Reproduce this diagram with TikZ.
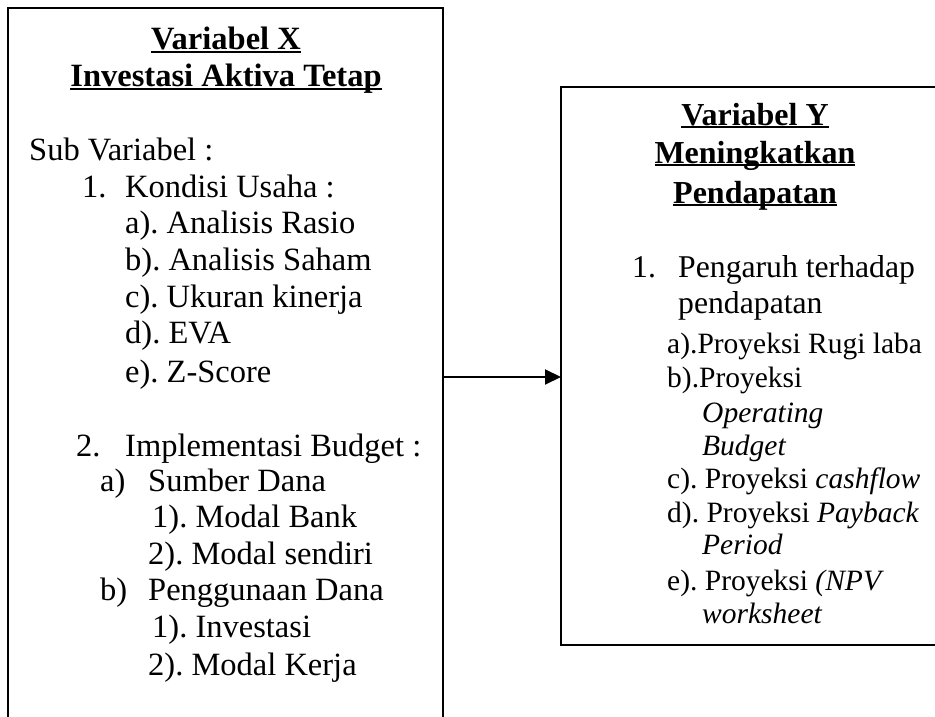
\documentclass[tikz,border=0pt]{standalone}
\usepackage{fontspec}
\setmainfont{Liberation Serif}
\usetikzlibrary{arrows.meta}
\frenchspacing
\newcommand{\myul}[1]{\setbox0\hbox{#1}\rlap{\rule[-3pt]{\wd0}{1.8pt}}\box0}
\begin{document}
\begin{tikzpicture}[x=1pt,y=-1pt,
  box/.style={draw, line width=2pt, inner sep=0pt, outer sep=0pt, anchor=north west},
  txt/.style={anchor=base west, inner sep=0pt, font=\fontsize{32.5}{38}\selectfont},
  rtxt/.style={anchor=base west, inner sep=0pt, font=\fontsize{31.7}{38}\selectfont},
  stxt/.style={anchor=base west, inner sep=0pt, font=\fontsize{29.5}{34}\selectfont},
  ttl/.style={anchor=base, inner sep=0pt, font=\fontsize{32.5}{38}\selectfont\bfseries},
  sttl/.style={anchor=base, inner sep=0pt, font=\fontsize{32}{38}\selectfont\bfseries},
  conn/.style={line width=2pt, -{Triangle[length=16pt,width=15pt]}}]
\useasboundingbox (0,0) rectangle (935,717);
\clip (0,0) rectangle (935,717);
\node[box, minimum width=435pt, minimum height=740pt] (lbox) at (8,8) {};
\node[box, minimum width=400pt, minimum height=558pt] (rbox) at (561,87) {};
% left box text
\node[ttl] (lt1) at (226,50) {\myul{Variabel X}};
\node[ttl] (lt2) at (226,87) {\myul{Investasi Aktiva Tetap}};
\node[txt] (sv) at (29,160) {Sub Variabel :};
\node[txt] (n1) at (82,197) {1.};
\node[txt] (k1) at (125,197) {Kondisi Usaha :};
\node[txt] (ka) at (125,233) {a). Analisis Rasio};
\node[txt] (kb) at (125,270) {b). Analisis Saham};
\node[txt] (kc) at (125,307) {c). Ukuran kinerja};
\node[txt] (kd) at (125,343) {d). EVA};
\node[txt] (ke) at (125,382) {e). Z-Score};
\node[txt] (n2) at (76,456) {2.};
\node[txt] (k2) at (125,456) {Implementasi Budget :};
\node[txt] (ia) at (100,491) {a)};
\node[txt] (ia1) at (148,491) {Sumber Dana};
\node[txt] (ia2) at (152,527) {1). Modal Bank};
\node[txt] (ia3) at (148,564) {2). Modal sendiri};
\node[txt] (ib) at (100,600) {b)};
\node[txt] (ib1) at (148,600) {Penggunaan Dana};
\node[txt] (ib2) at (152,637) {1). Investasi};
\node[txt] (ib3) at (148,675) {2). Modal Kerja};
% right box text
\node[sttl] (rt1) at (755,125) {\myul{Variabel Y}};
\node[sttl] (rt2) at (755,163) {\myul{Meningkatkan}};
\node[sttl] (rt3) at (755,203) {\myul{Pendapatan}};
\node[rtxt] (rn1) at (632,277) {1.};
\node[rtxt] (rp1) at (678,277) {Pengaruh terhadap};
\node[rtxt] (rp2) at (678,313) {pendapatan};
\node[stxt] (ra) at (667,353) {a).Proyeksi Rugi laba};
\node[stxt] (rb) at (667,387) {b).Proyeksi};
\node[stxt] (rb2) at (702,422) {\itshape Operating};
\node[stxt] (rb3) at (702,455) {\itshape Budget};
\node[stxt] (rc) at (667,488) {c). Proyeksi \textit{cashflow}};
\node[stxt] (rd) at (667,522) {d). Proyeksi \textit{Payback}};
\node[stxt] (rd2) at (702,554) {\itshape Period};
\node[stxt] (re) at (667,590) {e). Proyeksi \textit{(NPV}};
\node[stxt] (re2) at (702,623) {\itshape worksheet};
% connector
\draw[conn] (lbox.east |- 0,377) -- (rbox.west |- 0,377);
\end{tikzpicture}
\end{document}
